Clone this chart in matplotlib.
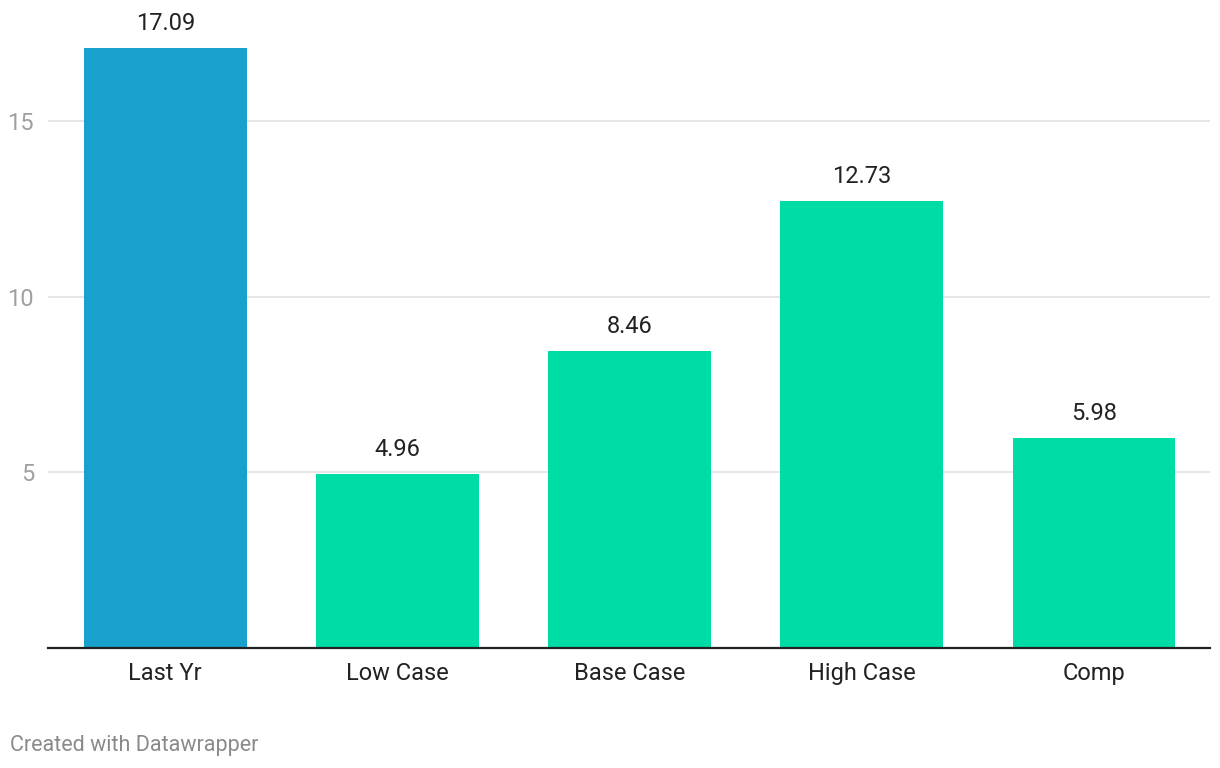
import numpy as np
import matplotlib.pyplot as plt

categories = ['Last Yr', 'Low Case', 'Base Case', 'High Case', 'Comp']
values = [17.09, 4.96, 8.46, 12.73, 5.98]
colors = ['#18a1cd', '#00dca6', '#00dca6', '#00dca6', '#00dca6']
yticks = [5, 10, 15]

plt.rcParams['font.family'] = ['Roboto', 'DejaVu Sans']

W, H = 1220, 768
fig = plt.figure(figsize=(W / 100, H / 100), dpi=100)
ax = fig.add_axes([48 / W, (H - 648) / H, 1162 / W, 628 / H])

x = np.arange(len(categories))
ax.bar(x, values, width=0.70, color=colors, zorder=3)

for xi, v in zip(x, values):
    ax.annotate(f'{v:.2f}', (xi, v), xytext=(0, 9), textcoords='offset points',
                ha='center', va='bottom', fontsize=17, color='#222222')

ax.set_xlim(-0.505, 4.5)
ax.set_ylim(0, (648 - 20) / 35.13)

ax.set_yticks(yticks)
ax.set_yticklabels([str(t) for t in yticks])
ax.set_xticks(x)
ax.set_xticklabels(categories)
ax.tick_params(axis='y', length=0, pad=10, labelsize=17, labelcolor='#a0a0a0')
ax.tick_params(axis='x', length=0, pad=10, labelsize=17, labelcolor='#222222')

ax.grid(axis='y', color='#e6e6e6', linewidth=1.4, zorder=0)
for s in ['top', 'right', 'left']:
    ax.spines[s].set_visible(False)
ax.spines['bottom'].set_color('#222222')
ax.spines['bottom'].set_linewidth(1.6)
ax.spines['bottom'].set_zorder(4)

fig.text(10 / W, 1 - 745 / H, 'Created with Datawrapper', fontsize=15.5,
         color='#8a8a8a', ha='left', va='center')

fig.savefig('out.png', dpi=100)
